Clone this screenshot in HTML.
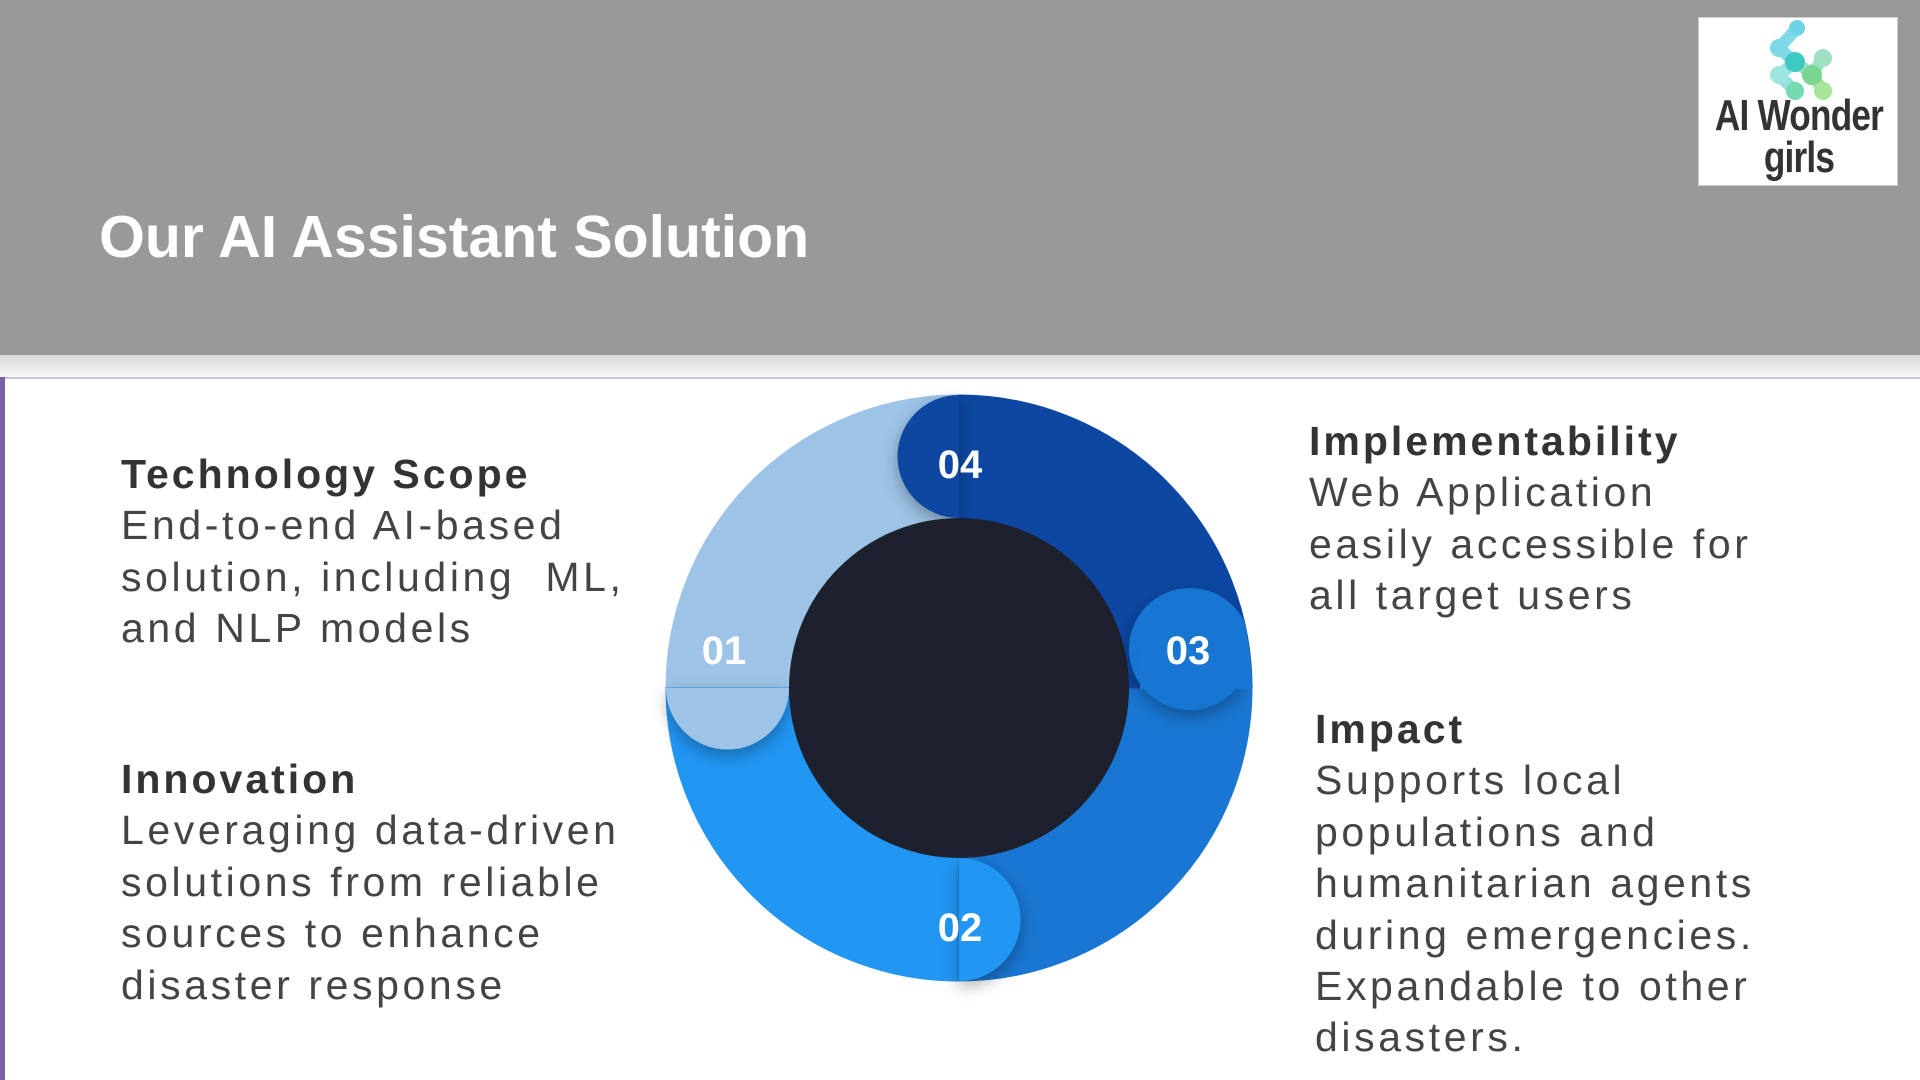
<!DOCTYPE html>
<html><head><meta charset="utf-8"><style>
body{margin:0;width:1920px;height:1080px;position:relative;overflow:hidden;background:#fff;font-family:"Liberation Sans",sans-serif}
.hdr{position:absolute;left:0;top:0;width:1920px;height:355px;background:#999}
.sh{position:absolute;left:0;top:355px;width:1920px;height:22px;background:linear-gradient(#d8d8d8,#f7f7f7)}
.ln{position:absolute;left:0;top:377px;width:1920px;height:2px;background:#c9c3dc}
.bar{position:absolute;left:0;top:377px;width:5px;height:703px;background:#7a5ea8}
h1{position:absolute;left:99px;top:202px;margin:0;color:#fff;font-size:59px;font-weight:bold;line-height:70px}
.t{position:absolute;font-size:41px;line-height:51.4px;color:#444;letter-spacing:3.6px;white-space:nowrap}
.t b{color:#333;letter-spacing:3px}
.logo{position:absolute;left:1698px;top:17px;width:200px;height:169px;background:#fff;border:1px solid #ccc;box-sizing:border-box}
.lt{position:absolute;left:-20px;width:240px;text-align:center;font-weight:bold;color:#333;font-size:44px;transform:scaleX(0.8);line-height:44px;letter-spacing:-1px}
</style></head><body>
<div class="hdr"></div><div class="sh"></div><div class="ln"></div><div class="bar"></div>
<h1>Our AI Assistant Solution</h1>
<div class="logo">
<svg width="200" height="90" style="position:absolute;left:0;top:0">
<g stroke-linecap="round" stroke-width="12" fill="none" opacity="0.85">
<path d="M98 10 L80 30 L96 44" stroke="#6fd3e6"/>
<path d="M96 44 L113 56 L124 40" stroke="#8ddcc0"/>
<path d="M113 56 L124 73" stroke="#9be08a"/>
<path d="M96 44 L80 57 L96 73" stroke="#7fdfd6"/>
</g>
<circle cx="98" cy="10" r="8" fill="#6fd3e6"/><circle cx="80" cy="30" r="9" fill="#7dd8e8"/>
<circle cx="96" cy="44" r="10" fill="#3fc9c3"/><circle cx="124" cy="40" r="9" fill="#9ee0c2"/>
<circle cx="80" cy="57" r="9" fill="#9de6df"/><circle cx="113" cy="57" r="10" fill="#79d68f"/>
<circle cx="96" cy="73" r="9" fill="#74dab0"/><circle cx="124" cy="73" r="9" fill="#a7e59b"/>
</svg>
<div class="lt" style="top:76px">AI Wonder</div>
<div class="lt" style="top:118px">girls</div>
</div>

<svg width="1920" height="1080" style="position:absolute;left:0;top:0">
<defs><filter id="f" x="-30%" y="-30%" width="160%" height="160%"><feDropShadow dx="0" dy="6" stdDeviation="8" flood-opacity="0.3"/></filter>
<clipPath id="c"><circle cx="959" cy="688" r="293"/></clipPath></defs>
<path d="M959 395 A293 293 0 0 0 666 688 L789 688 A170 170 0 0 1 959 518 Z" fill="#9dc3e6" stroke="#9dc3e6"/>
<path d="M666 688 A293 293 0 0 0 959 981 L959 858 A170 170 0 0 1 789 688 Z" fill="#2196f3" stroke="#2196f3"/>
<path d="M959 981 A293 293 0 0 0 1252 688 L1129 688 A170 170 0 0 1 959 858 Z" fill="#1976d2" stroke="#1976d2"/>
<path d="M1252 688 A293 293 0 0 0 959 395 L959 518 A170 170 0 0 1 1129 688 Z" fill="#0d47a1" stroke="#0d47a1"/>
<path d="M959 395 A61.5 61.5 0 0 0 959 518 Z" fill="#0d47a1" filter="url(#f)"/>
<path d="M666 688 A61.5 61.5 0 0 0 789 688 Z" fill="#9dc3e6" filter="url(#f)"/>
<path d="M959 858 A61.5 61.5 0 0 1 959 981 Z" fill="#2196f3" filter="url(#f)"/>
<g clip-path="url(#c)">
<circle cx="1190" cy="649" r="61" fill="#1976d2" filter="url(#f)"/>
<rect x="1140" y="649" width="120" height="40" fill="#1976d2"/>
</g>
<circle cx="959" cy="688" r="170" fill="#1c212d"/>
<g fill="#fff" font-family="Liberation Sans,sans-serif" font-weight="bold" font-size="40" text-anchor="middle">
<text x="960" y="478">04</text><text x="724" y="664">01</text>
<text x="1188" y="664">03</text><text x="960" y="941">02</text>
</g>
</svg>

<div class="t" style="left:121px;top:449px"><b>Technology Scope</b><br>End-to-end AI-based<br>solution, including&nbsp; ML,<br>and NLP models</div>
<div class="t" style="left:121px;top:754px"><b>Innovation</b><br>Leveraging data-driven<br>solutions from reliable<br>sources to enhance<br>disaster response</div>
<div class="t" style="left:1309px;top:416px"><b>Implementability</b><br>Web Application<br>easily accessible for<br>all target users</div>
<div class="t" style="left:1315px;top:704px"><b>Impact</b><br>Supports local<br>populations and<br>humanitarian agents<br>during emergencies.<br>Expandable to other<br>disasters.</div>
</body></html>
